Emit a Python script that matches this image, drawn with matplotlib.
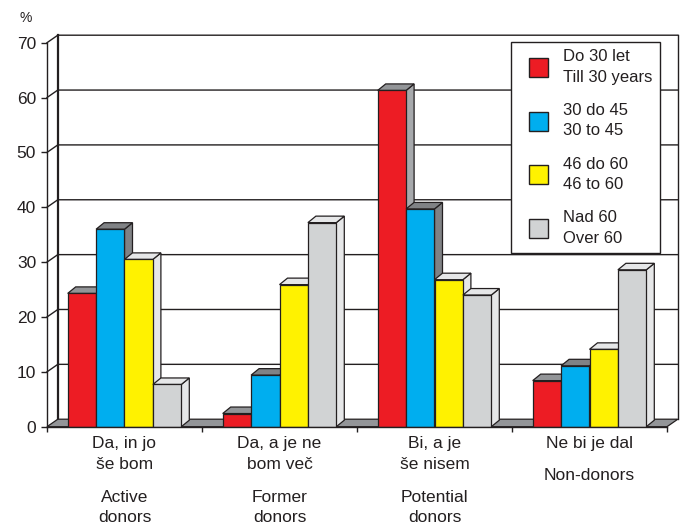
import matplotlib
matplotlib.use("Agg")
import matplotlib.pyplot as plt
from matplotlib.patches import Polygon, Patch, Rectangle
from matplotlib.legend_handler import HandlerPatch

plt.rcParams['font.family'] = ['Liberation Sans', 'DejaVu Sans']

# answers by age group, percent
groups_si = [["Da, in jo", "še bom"], ["Da, a je ne", "bom več"],
             ["Bi, a je", "še nisem"], ["Ne bi je dal"]]
groups_en = [["Active", "donors"], ["Former", "donors"],
             ["Potential", "donors"], ["Non-donors"]]
age_labels = ["Do 30 let\nTill 30 years", "30 do 45\n30 to 45",
              "46 do 60\n46 to 60", "Nad 60\nOver 60"]

till30 = [24.3, 2.4, 61.3, 8.4]
age30_45 = [36.0, 9.4, 39.7, 11.1]
age46_60 = [30.5, 25.9, 26.8, 14.1]
over60 = [7.7, 37.2, 24.0, 28.6]
series = [till30, age30_45, age46_60, over60]

front_col = ['#ED1C24', '#00AEEF', '#FFF200', '#D1D3D4']
top_col = ['#939598', '#808285', '#E6E7E8', '#E6E7E8']
side_col = ['#A7A9AC', '#808285', '#E6E7E8', '#E6E7E8']
ink = '#231F20'

fig = plt.figure(figsize=(6.85, 5.25), dpi=100)
ax = fig.add_axes([47 / 685, 1 - 426.7 / 525, 620 / 685, 384 / 525])
ax.set_xlim(0, 4)
ax.set_ylim(0, 70)

# depth of the box and of the columns, in data units
px_x = 620 / 4
px_y = 384 / 70
wdx, wdy = 10.8 / px_x, 7.5 / px_y
bdx, bdy = 8 / px_x, 6.5 / px_y

# floor and back wall
ax.add_patch(Polygon([(0, 0), (4, 0), (4 + wdx, wdy), (wdx, wdy)], closed=True,
                     facecolor='#939598', edgecolor=ink, lw=0.9, zorder=1.5,
                     clip_on=False))
for v in range(10, 71, 10):
    ax.plot([0, wdx, 4 + wdx], [v, v + wdy, v + wdy], color=ink, lw=1.0,
            zorder=1, clip_on=False, solid_joinstyle='miter')
ax.plot([wdx, wdx], [wdy, 70 + wdy], color=ink, lw=1.6, zorder=1, clip_on=False)
ax.plot([4 + wdx, 4 + wdx], [wdy, 70 + wdy], color=ink, lw=1.0, zorder=1,
        clip_on=False)

# columns
w = 28.4 / px_x
for j, vals in enumerate(series):
    xs = [i + 0.5 + (j - 1.5) * w for i in range(4)]
    ax.bar(xs, vals, width=w, color=front_col[j], edgecolor=ink, lw=0.9,
           zorder=4 + 2 * j)
    for x, v in zip(xs, vals):
        x0, x1 = x - w / 2, x + w / 2
        ax.add_patch(Polygon([(x1, 0), (x1 + bdx, bdy), (x1 + bdx, v + bdy), (x1, v)],
                             closed=True, facecolor=side_col[j], edgecolor=ink,
                             lw=0.9, zorder=3 + 2 * j))
        ax.add_patch(Polygon([(x0, v), (x0 + bdx, v + bdy), (x1 + bdx, v + bdy), (x1, v)],
                             closed=True, facecolor=top_col[j], edgecolor=ink,
                             lw=0.9, zorder=3 + 2 * j))

for side in ['top', 'right']:
    ax.spines[side].set_visible(False)
for side in ['left', 'bottom']:
    ax.spines[side].set_color(ink)
    ax.spines[side].set_linewidth(1.0)
    ax.spines[side].set_zorder(20)

ax.set_yticks(range(0, 71, 10))
ax.set_xticks(range(5))
ax.set_xticklabels([])
ax.tick_params(axis='y', direction='out', length=4.3, width=1.0, color=ink,
               labelsize=12.5, labelcolor=ink, pad=3.5)
ax.tick_params(axis='x', direction='out', length=3.8, width=1.0, color=ink)

ax.annotate('%', xy=(0, 1), xycoords='axes fraction', xytext=(-15.6, 17.8),
            textcoords='offset points', ha='center', va='center', fontsize=10,
            color=ink)

# category labels under the axis, one text per line
for i in range(4):
    si, en = groups_si[i], groups_en[i]
    for k, line in enumerate(si):
        ax.annotate(line, xy=(i + 0.5, 0), xytext=(0, -(21.3 + 21 * k) * 0.72),
                    textcoords='offset points', ha='center', va='baseline',
                    fontsize=12.5, color=ink)
    base = 75.3 if len(si) == 2 else 53.3
    for k, line in enumerate(en):
        ax.annotate(line, xy=(i + 0.5, 0), xytext=(0, -(base + 20 * k) * 0.72),
                    textcoords='offset points', ha='center', va='baseline',
                    fontsize=12.5, color=ink)


def square_patch(legend, orig_handle, xdescent, ydescent, width, height, fontsize):
    side = height
    return Rectangle((-xdescent + width - side, -ydescent), side, side)


handles = [Patch(facecolor=c, edgecolor=ink, lw=1.0) for c in front_col]
leg = ax.legend(handles, age_labels, loc='upper left',
                bbox_to_anchor=(511 / 685, 1 - 41.7 / 525),
                bbox_transform=fig.transFigure, borderaxespad=0,
                fontsize=12, frameon=True, fancybox=False, framealpha=1,
                edgecolor=ink, handlelength=1.75, handleheight=1.38,
                handletextpad=0.9, labelspacing=1.1, borderpad=0.45,
                handler_map={Patch: HandlerPatch(patch_func=square_patch)})
leg.get_frame().set_linewidth(1.0)
leg.set_zorder(30)
for t in leg.get_texts():
    t.set_color(ink)
    t.set_linespacing(1.45)

fig.savefig('out.png', dpi=100)
